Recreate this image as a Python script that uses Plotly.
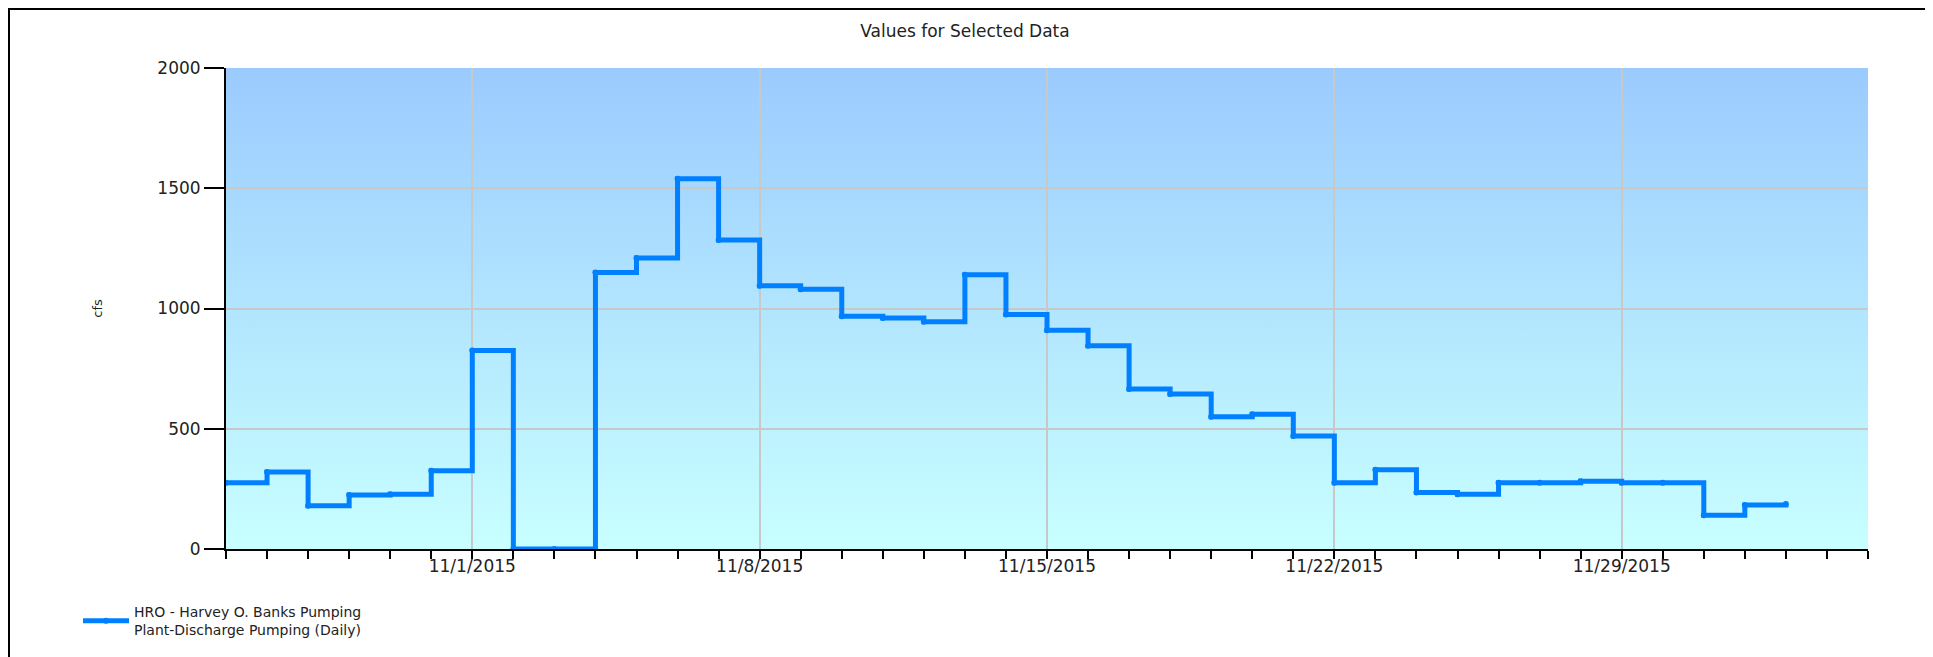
import base64
import plotly.graph_objects as go

# daily discharge pumping, cfs
dates = [
    '2015-10-26', '2015-10-27', '2015-10-28', '2015-10-29', '2015-10-30', '2015-10-31',
    '2015-11-01', '2015-11-02', '2015-11-03', '2015-11-04', '2015-11-05', '2015-11-06',
    '2015-11-07', '2015-11-08', '2015-11-09', '2015-11-10', '2015-11-11', '2015-11-12',
    '2015-11-13', '2015-11-14', '2015-11-15', '2015-11-16', '2015-11-17', '2015-11-18',
    '2015-11-19', '2015-11-20', '2015-11-21', '2015-11-22', '2015-11-23', '2015-11-24',
    '2015-11-25', '2015-11-26', '2015-11-27', '2015-11-28', '2015-11-29', '2015-11-30',
    '2015-12-01', '2015-12-02', '2015-12-03',
]
cfs = [
    275, 320, 180, 225, 228, 325,
    825, 0, 0, 1150, 1210, 1540,
    1285, 1095, 1080, 968, 960, 945,
    1140, 975, 910, 845, 665, 645,
    550, 560, 470, 275, 330, 235,
    228, 275, 275, 282, 275, 275,
    140, 183, 187,
]
series_name = 'HRO - Harvey O. Banks Pumping<br>Plant-Discharge Pumping (Daily)'
x_range = ['2015-10-26', '2015-12-05']
y_range = [0, 2000]

font = 'DejaVu Sans'
text_color = '#222222'
line_color = '#0080FF'
grid_color = '#C8C8C8'

# vertical gradient for the plot background
svg = (
    '<svg xmlns="http://www.w3.org/2000/svg" width="100" height="100" '
    'viewBox="0 0 100 100" preserveAspectRatio="none">'
    '<defs><linearGradient id="g" x1="0" y1="0" x2="0" y2="1">'
    '<stop offset="0" stop-color="#9BCBFE"/><stop offset="1" stop-color="#C8FFFF"/>'
    '</linearGradient></defs><rect width="100" height="100" fill="url(#g)"/></svg>'
)
bg_source = 'data:image/svg+xml;base64,' + base64.b64encode(svg.encode()).decode()

fig = go.Figure()
fig.add_trace(go.Scatter(
    x=dates, y=cfs, name=series_name,
    mode='lines+markers', line=dict(color=line_color, width=5, shape='hv'),
    marker=dict(size=6, color=line_color),
))

# the page body has an 8px margin, so the figure is 8px smaller than the window
W, H = 1925, 649
ml, mt, pw, ph = 218, 60, 1642, 481
mr, mb = W - ml - pw, H - mt - ph


def px(x):
    return (x - ml) / pw


def py(y):
    return (mt + ph - y) / ph


fig.update_layout(
    width=W, height=H,
    margin=dict(l=ml, r=mr, t=mt, b=mb, autoexpand=False),
    paper_bgcolor='white', plot_bgcolor='rgba(0,0,0,0)',
    font=dict(family=font, color=text_color),
    title=dict(text='Values for Selected Data', x=957 / W, xanchor='center', xref='container',
               y=1 - 23 / H, yref='container', yanchor='middle',
               font=dict(size=17, color=text_color)),
    showlegend=True,
    legend=dict(x=px(70), y=py(588), xanchor='left', yanchor='top',
                bgcolor='rgba(0,0,0,0)', font=dict(size=14), itemwidth=46),
    images=[dict(source=bg_source, xref='paper', yref='paper', x=0, y=1, sizex=1, sizey=1,
                 sizing='stretch', xanchor='left', yanchor='top', layer='below')],
    shapes=[dict(type='rect', xref='paper', yref='paper',
                 x0=px(1), x1=px(1918.5), y0=py(680), y1=py(1),
                 line=dict(color='black', width=2), fillcolor='rgba(0,0,0,0)', layer='below')],
)

fig.update_xaxes(
    type='date', range=x_range,
    tick0='2015-11-01', dtick=7 * 86400000, tickformat='%-m/%-d/%Y',
    ticks='outside', ticklen=8, tickwidth=1.5, tickcolor='black',
    tickfont=dict(size=17, color=text_color), ticklabelstandoff=-7,
    showgrid=True, gridcolor=grid_color, gridwidth=2,
    showline=True, linecolor='black', linewidth=2,
    minor=dict(dtick=86400000, ticks='outside', ticklen=8, tickwidth=1.5, tickcolor='black', showgrid=False),
    zeroline=False, automargin=False,
)
fig.update_yaxes(
    range=y_range, dtick=500,
    ticks='outside', ticklen=20, tickwidth=1.5, tickcolor='black',
    tickfont=dict(size=17, color=text_color),
    showgrid=True, gridcolor=grid_color, gridwidth=2,
    showline=True, linecolor='black', linewidth=2,
    zeroline=False, automargin=False,
    title=dict(text='cfs', font=dict(size=13, color=text_color), standoff=52),
)

fig.write_html('out.html')
